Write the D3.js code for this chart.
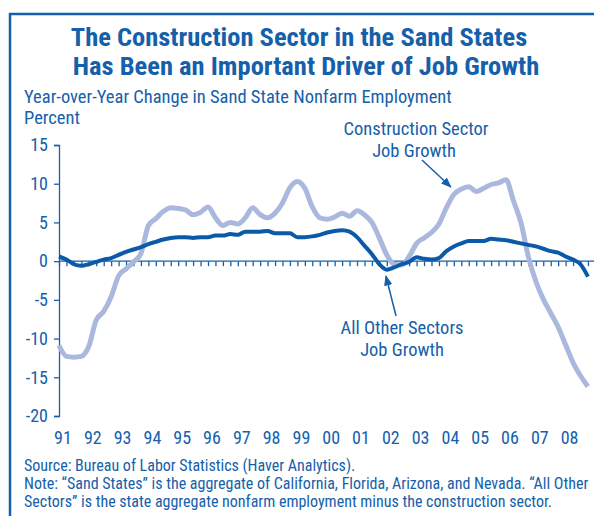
<!DOCTYPE html>
<html>
<head>
<meta charset="utf-8">
<script src="https://cdn.jsdelivr.net/npm/d3@7"></script>
<style>
  body { margin: 0; background: #fff; }
  svg text { font-family: "Liberation Sans Narrow", "Roboto Condensed", "DejaVu Sans Condensed", sans-serif; fill: #1560aa; }
</style>
</head>
<body>
<div id="chart"></div>
<script>
// quarterly readings, Q1 1991 .. Q4 2008 (percent, year over year)
const startYear = 1991
const construction = [
  -10.9, -12.3, -12.4, -12.3, -11.0, -7.6, -6.5, -4.6,
  -1.9, -1.0, -0.1, 1.0, 4.6, 5.5, 6.4, 6.9,
  6.8, 6.6, 6.0, 6.3, 7.0, 5.6, 4.6, 5.0,
  4.8, 5.6, 6.9, 6.0, 5.6, 6.2, 7.5, 9.5,
  10.3, 9.4, 7.0, 5.6, 5.4, 5.7, 6.2, 5.8,
  6.5, 6.0, 5.0, 3.0, 0.8, -0.4, -0.5, 0.6,
  2.3, 3.0, 3.7, 4.8, 6.9, 8.6, 9.3, 9.6,
  9.0, 9.4, 9.9, 10.1, 10.5, 7.8, 5.0, 0.6,
  -2.6, -4.9, -6.7, -8.5, -10.8, -13.1, -14.8, -16.2
]
const otherSectors = [
  0.6, 0.2, -0.4, -0.6, -0.4, -0.1, 0.2, 0.4,
  0.8, 1.2, 1.5, 1.8, 2.2, 2.5, 2.8, 3.0,
  3.1, 3.1, 3.0, 3.1, 3.1, 3.3, 3.3, 3.5,
  3.4, 3.8, 3.8, 3.8, 3.9, 3.6, 3.6, 3.6,
  3.1, 3.1, 3.2, 3.4, 3.7, 3.9, 4.0, 3.8,
  3.1, 2.0, 0.9, -0.4, -1.1, -0.8, -0.4, -0.1,
  0.5, 0.3, 0.2, 0.4, 1.3, 1.9, 2.3, 2.6,
  2.6, 2.6, 2.9, 2.8, 2.7, 2.5, 2.3, 2.1,
  1.9, 1.6, 1.3, 1.1, 0.6, 0.2, -0.4, -2.0
]
const yTicks = [15, 10, 5, 0, -5, -10, -15, -20]
const yearLabels = ["91","92","93","94","95","96","97","98","99","00","01","02","03","04","05","06","07","08"]

const width = 594, height = 516
const blue = "#1560aa", dark = "#0a5aa8", light = "#aab8de"

const svg = d3.select("#chart").append("svg")
    .attr("width", width)
    .attr("height", height)

// frame
svg.append("path")
    .attr("d", `M10,${height} V14 H${width}`)
    .attr("fill", "none")
    .attr("stroke", blue)
    .attr("stroke-width", 2.5)

// titles
const title = svg.append("g")
    .attr("text-anchor", "middle")
    .style("font-weight", "bold")
    .style("font-size", "26.5px")
title.append("text").attr("x", 299).attr("y", 46).text("The Construction Sector in the Sand States")
title.append("text").attr("x", 306).attr("y", 75).text("Has Been an Important Driver of Job Growth")

svg.append("text").attr("x", 24).attr("y", 103).style("font-size", "18.5px")
    .text("Year-over-Year Change in Sand State Nonfarm Employment")
svg.append("text").attr("x", 24).attr("y", 124).style("font-size", "18.5px")
    .text("Percent")

const x = d3.scaleLinear()
    .domain([startYear, startYear + 18])
    .range([59, 595.4])
const y = d3.scaleLinear()
    .domain([-20, 15])
    .range([416, 145])

const date = i => startYear + i * 0.25

// y axis
svg.append("g")
    .attr("transform", `translate(${x(startYear)},0)`)
    .call(d3.axisLeft(y).tickValues(yTicks).tickSize(5).tickPadding(6).tickFormat(d => d))
    .call(g => g.selectAll("path, line").attr("stroke", blue).attr("stroke-width", 1.3))
    .call(g => g.selectAll("text").attr("font-size", 18).style("font-family", null).attr("fill", blue))

// zero line with quarterly ticks
svg.append("g")
    .attr("transform", `translate(0,${y(0)})`)
    .call(d3.axisBottom(x).tickValues(d3.range(construction.length + 1).map(date)).tickSize(5).tickSizeOuter(0).tickFormat(""))
    .call(g => g.select(".domain").attr("d", `M${x(startYear)},0H${width}`))
    .call(g => g.selectAll("path, line").attr("stroke", blue).attr("stroke-width", 1.3))

// year labels
svg.append("g")
    .attr("text-anchor", "middle")
    .style("font-size", "18px")
  .selectAll("text")
  .data(yearLabels)
  .join("text")
    .attr("x", (d, i) => x(startYear + i) + 4)
    .attr("y", 444)
    .text(d => d)

const line = d3.line()
    .x((d, i) => x(date(i)))
    .y(d => y(d))
    .curve(d3.curveMonotoneX)

svg.append("path")
    .datum(construction)
    .attr("fill", "none")
    .attr("stroke", light)
    .attr("stroke-width", 5)
    .attr("stroke-linejoin", "round")
    .attr("d", line)

svg.append("path")
    .datum(otherSectors)
    .attr("fill", "none")
    .attr("stroke", dark)
    .attr("stroke-width", 4)
    .attr("stroke-linejoin", "round")
    .attr("d", line)

// annotations
svg.append("defs").append("marker")
    .attr("id", "arrow")
    .attr("viewBox", "0 0 10 10")
    .attr("refX", 9).attr("refY", 5)
    .attr("markerWidth", 7).attr("markerHeight", 7)
    .attr("orient", "auto")
  .append("path")
    .attr("d", "M0,1 L10,5 L0,9 Z")
    .attr("fill", blue)

const notes = svg.append("g").attr("text-anchor", "middle").style("font-size", "18.5px")
notes.append("text").attr("x", 416).attr("y", 135).text("Construction Sector")
notes.append("text").attr("x", 414).attr("y", 157).text("Job Growth")
notes.append("text").attr("x", 402).attr("y", 334).text("All Other Sectors")
notes.append("text").attr("x", 402).attr("y", 356).text("Job Growth")

svg.append("line")
    .attr("x1", x(2003.18)).attr("y1", 160)
    .attr("x2", x(2004.15)).attr("y2", 187)
    .attr("stroke", blue).attr("stroke-width", 1.5)
    .attr("marker-end", "url(#arrow)")
svg.append("line")
    .attr("x1", x(2002.31)).attr("y1", 316)
    .attr("x2", x(2001.97)).attr("y2", 276)
    .attr("stroke", blue).attr("stroke-width", 1.5)
    .attr("marker-end", "url(#arrow)")

// source
const src = svg.append("g").style("font-size", "16px")
src.append("text").attr("x", 24).attr("y", 471).text("Source: Bureau of Labor Statistics (Haver Analytics).")
src.append("text").attr("x", 24).attr("y", 489).text("Note: \u201cSand States\u201d is the aggregate of California, Florida, Arizona, and Nevada. \u201cAll Other")
src.append("text").attr("x", 24).attr("y", 507).text("Sectors\u201d is the state aggregate nonfarm employment minus the construction sector.")
</script>
</body>
</html>
